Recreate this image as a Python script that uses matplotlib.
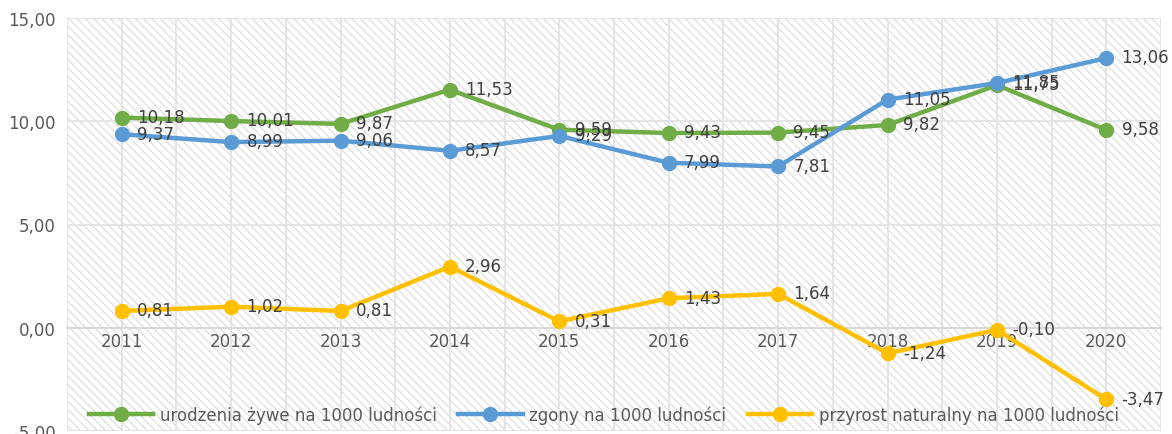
"""
Urodzenia, zgony i przyrost naturalny na 1000 ludnosci, 2011-2020
"""

import numpy as np
import matplotlib.pyplot as plt
from matplotlib.ticker import FuncFormatter

years = ['2011', '2012', '2013', '2014', '2015', '2016', '2017', '2018', '2019', '2020']

urodzenia = [10.18, 10.01, 9.87, 11.53, 9.59, 9.43, 9.45, 9.82, 11.75, 9.58]
zgony = [9.37, 8.99, 9.06, 8.57, 9.29, 7.99, 7.81, 11.05, 11.85, 13.06]
przyrost = [0.81, 1.02, 0.81, 2.96, 0.31, 1.43, 1.64, -1.24, -0.10, -3.47]

names = ['urodzenia żywe na 1000 ludności', 'zgony na 1000 ludności',
         'przyrost naturalny na 1000 ludności']
colors = ['#70AD47', '#5B9BD5', '#FFC000']

plt.rcParams['font.family'] = ['DejaVu Sans']
plt.rcParams['hatch.color'] = '#dadada'
plt.rcParams['hatch.linewidth'] = 0.75

#------------------------------------------------------------------------------

fig = plt.figure(figsize=(11.72, 4.35), dpi=100)
ax = fig.add_axes([67/1172, 3/435, 1094/1172, 413/435])

ax.patch.set_facecolor('white')
ax.patch.set_hatch('\\\\\\\\')
ax.patch.set_edgecolor('#dadada')

x = np.arange(len(years))
for vals, name, c in zip([urodzenia, zgony, przyrost], names, colors):
    ax.plot(x, vals, '-o', color=c, lw=3.2, ms=10, label=name, zorder=3)
    for xi, v in zip(x, vals):
        ax.annotate(f"{v:.2f}".replace('.', ','), (xi, v), xytext=(11, 0.5),
                    textcoords='offset points', ha='left', va='center',
                    fontsize=12, color='#404040', zorder=4)

ax.set_xlim(-0.5, len(years) - 0.5)
ax.set_ylim(-5, 15)
ax.set_yticks([-5, 0, 5, 10, 15])
ax.yaxis.set_major_formatter(FuncFormatter(lambda v, p: f"{v:.2f}".replace('.', ',')))

ax.set_xticks(x)
ax.set_xticklabels(years)
ax.set_xticks(np.arange(-0.5, len(years)), minor=True)

ax.spines['bottom'].set_position(('data', 0))
for s in ['top', 'right', 'left']:
    ax.spines[s].set_visible(False)
ax.spines['bottom'].set_color('#d9d9d9')
ax.spines['bottom'].set_linewidth(1.5)

ax.tick_params(axis='both', which='both', length=0, labelsize=12, labelcolor='#595959')
ax.tick_params(axis='x', pad=3)
ax.tick_params(axis='y', pad=8)

ax.grid(True, which='both', color='#e3e3e3', lw=1.3, zorder=0)
ax.set_axisbelow(True)

ax.legend(loc='center left', bbox_to_anchor=(0.014, 0.04), ncol=3, frameon=False,
          fontsize=12, labelcolor='#595959', handlelength=3.85, handletextpad=0.4,
          columnspacing=1.3, borderaxespad=0)

fig.savefig('out.png', dpi=100)
